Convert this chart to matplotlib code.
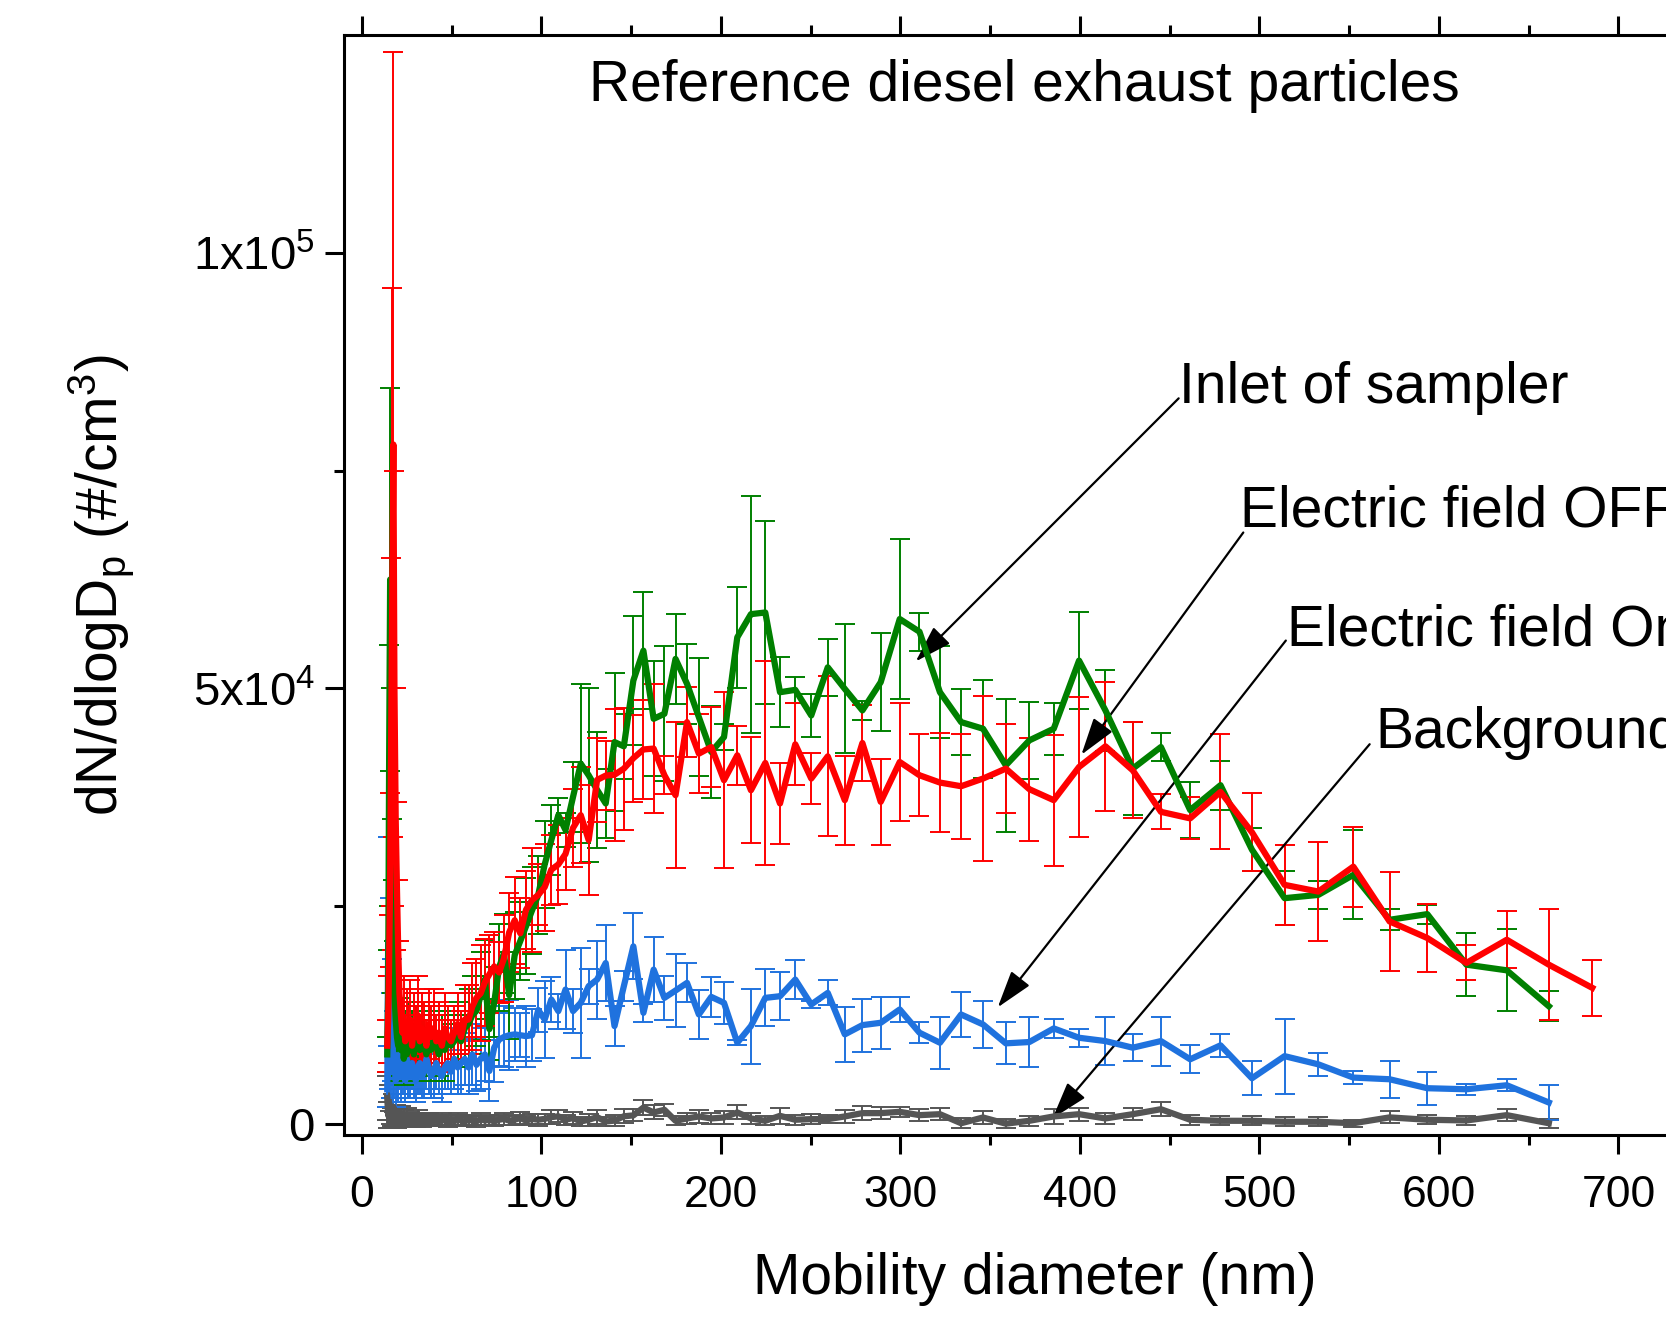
import numpy as np
import matplotlib
matplotlib.use('Agg')
import matplotlib.pyplot as plt

plt.rcParams['font.family'] = ['Liberation Sans', 'DejaVu Sans']
plt.rcParams['mathtext.fontset'] = 'custom'
plt.rcParams['mathtext.rm'] = 'Liberation Sans'
plt.rcParams['mathtext.it'] = 'Liberation Sans:italic'
plt.rcParams['mathtext.default'] = 'regular'

# SMPS channel mid-points (nm)
diam = [14.1, 14.6, 15.1, 15.7, 16.3, 16.8, 17.5, 18.1, 18.8, 19.5,
        20.2, 20.9, 21.7, 22.5, 23.3, 24.1, 25.0, 25.9, 26.9, 27.9,
        28.9, 30.0, 31.1, 32.2, 33.4, 34.6, 35.9, 37.2, 38.5, 40.0,
        41.4, 42.9, 44.5, 46.1, 47.8, 49.6, 51.4, 53.3, 55.2, 57.3,
        59.4, 61.5, 63.8, 66.1, 68.5, 71.0, 73.7, 76.4, 79.1, 82.0,
        85.1, 88.2, 91.4, 94.7, 98.2, 101.8, 105.5, 109.4, 113.4, 117.6,
        121.9, 126.3, 131.0, 135.8, 140.7, 145.9, 151.2, 156.8, 162.5, 168.5,
        174.7, 181.1, 187.7, 194.6, 201.7, 209.1, 216.7, 224.7, 232.9, 241.4,
        250.3, 259.5, 269.0, 278.8, 289.0, 299.6, 310.6, 322.0, 333.8, 346.0,
        358.7, 371.8, 385.4, 399.5, 414.2, 429.4, 445.1, 461.4, 478.3, 495.8,
        514.0, 532.8, 552.3, 572.5, 593.5, 615.3, 637.8, 661.2, 685.4]

# inlet of sampler (green)
inlet = [8000, 15000, 40000, 62500, 35000, 25000, 20000, 15000, 12000, 10000,
         9000, 11000, 8500, 10000, 7500, 9500, 8000, 10500, 8500, 9500,
         8000, 10000, 9000, 8500, 10500, 9000, 8000, 9500, 8500, 10000,
         9000, 8000, 9500, 8500, 10000, 9000, 9500, 10500, 9500, 11000,
         11500, 12500, 13000, 14700, 16600, 10900, 14000, 18000, 19600, 14800,
         19400, 21000, 22700, 24500, 26300, 29800, 32600, 35460, 33750, 37560,
         41370, 40040, 38360, 36800, 43850, 43360, 50910, 54340, 46520, 47090,
         53390, 50530, 46710, 42710, 44420, 55870, 58530, 58720, 49570, 49840,
         46900, 52430, 49950, 47480, 50720, 57970, 56510, 49570, 46140, 45380,
         41180, 44040, 45380, 53200, 47480, 40800, 43280, 36040, 38900, 31500,
         25930, 26310, 28600, 23450, 24100, 18300, 17650, 13530]
inlet_err = [2000, 5000, 15000, 22000, 15000, 10000, 8000, 6000, 5000, 4000,
             4000, 3500, 3000, 4000, 3000, 3500, 2500, 3500, 3000, 3500,
             3000, 3500, 3000, 2500, 3500, 3000, 2500, 3000, 3500, 3000,
             3000, 2500, 3000, 3500, 3000, 2500, 3000, 3500, 3000, 4000,
             4000, 4500, 4000, 5000, 4500, 3500, 4000, 5000, 4500, 5000,
             5000, 4500, 5500, 5000, 4500, 5000, 4000, 2000, 2000, 4000,
             9100, 10000, 6700, 4000, 7900, 3700, 7400, 6750, 6600, 7750,
             5200, 4600, 6750, 5250, 1500, 5800, 13600, 10500, 4000, 1500,
             2500, 3300, 7400, 1100, 5600, 9200, 2200, 5300, 3800, 5600,
             7600, 4400, 3000, 5600, 4600, 5300, 1600, 3200, 2800, 2500,
             3100, 1600, 5100, 1200, 1100, 3600, 4700, 1700]

# electric field OFF (red)
field_off = [9000, 12000, 18000, 28000, 45000, 58000, 78000, 50000, 35000, 27000,
             20000, 15000, 12500, 10500, 12000, 9500, 11500, 10000, 12000, 9000,
             11000, 10000, 12500, 9500, 11000, 10500, 9000, 11500, 10000, 11000,
             9500, 10500, 9000, 11000, 10000, 9500, 10500, 11500, 10000, 12000,
             12000, 13500, 14500, 15000, 16300, 17200, 18100, 17400, 19000, 22000,
             23400, 21900, 24600, 25700, 26300, 27200, 29200, 29800, 31000, 34000,
             35460, 32600, 39500, 40000, 40100, 40800, 42000, 43000, 43100, 40040,
             37750, 46140, 42520, 43280, 39470, 42330, 38320, 41450, 36800, 43590,
             39660, 42210, 37180, 43740, 36990, 41560, 40040, 39200, 38780, 39660,
             40800, 38440, 37180, 40990, 43360, 40610, 35840, 35090, 38130, 33500,
             27460, 26690, 29550, 23260, 21360, 18500, 21160, 18300, 15640]
field_off_err = [3000, 5000, 6000, 10000, 20000, 38000, 45000, 25000, 15000, 10000,
                 8000, 6000, 4500, 3500, 5000, 3000, 4000, 3500, 4500, 3000,
                 4000, 3500, 4500, 3000, 4000, 3500, 3000, 4000, 3500, 4500,
                 3000, 3500, 3000, 4000, 3500, 2500, 3000, 3500, 3000, 4000,
                 4000, 5000, 4500, 5500, 5000, 4500, 4000, 3500, 5000, 4500,
                 5000, 4000, 4500, 6000, 3500, 5000, 4000, 4500, 4100, 4500,
                 5500, 6300, 4850, 4000, 7600, 7000, 5000, 5700, 7400, 2200,
                 8400, 4000, 4500, 4600, 10100, 3400, 6100, 11750, 4600, 4700,
                 2900, 9200, 5100, 4400, 4960, 6800, 4700, 5700, 6000, 9500,
                 5100, 5900, 7500, 8000, 7400, 5500, 2000, 2400, 6600, 4500,
                 4600, 5700, 4600, 5700, 3900, 2000, 3300, 6400, 3200]

# electric field On (blue)
field_on = [4000, 21000, 12000, 16000, 9000, 12000, 6000, 8000, 5000, 7000,
            6000, 8000, 5500, 7000, 6500, 5000, 7500, 6000, 5500, 7000,
            6000, 5000, 6500, 7000, 5500, 6000, 7500, 6500, 5500, 6000,
            7000, 6000, 5500, 6500, 7000, 6000, 7500, 6500, 7000, 7500,
            6500, 8000, 6800, 7500, 8000, 6100, 8800, 9700, 10000, 10200,
            10300, 10200, 10100, 10200, 13100, 12010, 14300, 12970, 15440, 12970,
            13920, 15830, 16590, 18490, 11250, 15830, 20400, 12770, 17730, 14490,
            15330, 16210, 12580, 14600, 13920, 9340, 11250, 14490, 14680, 16590,
            13730, 15060, 10300, 11360, 11630, 13160, 10490, 9340, 12580, 11440,
            9270, 9420, 10980, 9910, 9530, 8770, 9530, 7440, 9040, 5260,
            7800, 6860, 5340, 5150, 4120, 4000, 4460, 2480]
field_on_err = [2000, 12000, 8000, 10000, 6000, 7000, 4000, 5000, 3000, 4000,
                3500, 4000, 3000, 3500, 3000, 2500, 3500, 3000, 2500, 3000,
                3000, 2500, 3000, 3500, 2500, 3000, 3500, 3000, 2500, 3000,
                3000, 2500, 3000, 2500, 3000, 2500, 3500, 3000, 3500, 3000,
                3000, 3500, 3000, 3500, 3000, 3500, 4000, 3000, 3500, 4000,
                3000, 2500, 3500, 3000, 2500, 4420, 2600, 2000, 4500, 2500,
                6330, 2000, 4480, 4400, 2300, 1700, 3780, 1000, 3750, 2500,
                4230, 2230, 2850, 2290, 2400, 300, 4300, 3260, 2780, 2200,
                400, 1430, 3150, 3030, 3000, 1470, 1200, 3000, 2550, 2730,
                2400, 2820, 1100, 1050, 2730, 1580, 2820, 1600, 1330, 1960,
                4300, 1300, 700, 2100, 1900, 650, 700, 2000]

# background (grey)
background = [3000, 1000, 2500, 500, 1500, 800, 2000, 600, 1200, 400,
              900, 500, 1200, 300, 800, 600, 1000, 400, 700, 500,
              600, 300, 800, 500, 400, 700, 300, 600, 500, 400,
              500, 300, 600, 400, 200, 500, 300, 600, 400, 300,
              500, 400, 300, 600, 400, 500, 300, 500, 600, 400,
              500, 700, 400, 600, 500, 600, 800, 900, 500, 700,
              300, 500, 800, 300, 400, 900, 1000, 1900, 1340, 1640,
              380, 650, 880, 650, 760, 1340, 650, 380, 950, 500,
              570, 570, 880, 1260, 1260, 1410, 1030, 1140, 100, 760,
              50, 380, 880, 1140, 650, 1140, 1710, 500, 380, 380,
              270, 270, 100, 770, 500, 420, 1030, 100]
background_err = [2500, 1500, 2000, 1000, 1500, 1000, 1500, 800, 1000, 800,
                  800, 700, 900, 600, 800, 700, 900, 600, 700, 600,
                  700, 600, 800, 600, 700, 600, 500, 700, 600, 500,
                  600, 500, 700, 600, 500, 600, 500, 700, 600, 500,
                  600, 500, 600, 700, 500, 600, 500, 600, 700, 500,
                  600, 700, 500, 600, 700, 600, 800, 700, 600, 700,
                  500, 700, 800, 500, 600, 800, 700, 900, 800, 700,
                  500, 600, 700, 600, 700, 800, 600, 500, 900, 600,
                  600, 500, 700, 800, 700, 600, 700, 700, 600, 700,
                  500, 600, 850, 750, 600, 700, 800, 600, 500, 500,
                  500, 500, 400, 700, 500, 500, 700, 500]

series = [
    (background, background_err, '#555555'),
    (field_on, field_on_err, '#1f72de'),
    (inlet, inlet_err, '#008000'),
    (field_off, field_off_err, '#ff0000'),
]

W, H = 1666, 1326
fig = plt.figure(figsize=(W / 100, H / 100), dpi=100)

px_per_nm = 1.795
x_left, x_right = -10, 760
ax = fig.add_axes([344 / W, 191 / H, (x_right - x_left) * px_per_nm / W, 1100 / H])

for vals, errs, col in series:
    xs = diam[:len(vals)]
    ax.errorbar(xs, vals, yerr=errs, color=col, lw=4.5, elinewidth=1.4,
                capsize=7.5, capthick=1.4, zorder=3)

ax.set_xlim(x_left, x_right)
ax.set_ylim(-1250, 125000)

ax.set_xticks(range(0, 800, 100))
ax.set_xticks(range(50, 800, 100), minor=True)
ax.set_yticks([0, 50000, 100000], ['0', '5x10$^4$', '1x10$^5$'])
ax.set_yticks([25000, 75000], minor=True)

for side in ['top', 'left', 'bottom', 'right']:
    ax.spines[side].set_linewidth(2.2)

ax.tick_params(which='both', direction='out', top=True, right=False,
               labeltop=False, width=2.2)
ax.tick_params(axis='x', pad=15, labelsize=32)
ax.tick_params(axis='y', pad=7, labelsize=34)
ax.tick_params(which='major', length=14)
ax.tick_params(which='minor', length=7)

ax.set_xlabel('Mobility diameter (nm)', fontsize=41, labelpad=26)
ax.set_ylabel('dN/dlogD$_\\mathrm{p}$ (#/cm$^3$)', fontsize=41, labelpad=40)

ax.text(369, 119200, 'Reference diesel exhaust particles', fontsize=41,
        ha='center', va='center')

# labels with arrows (the right part is cut by the figure edge, as in the source)
labels = ['Inlet of sampler', 'Electric field OFF', 'Electric field On', 'Background']
label_pos = [(455, 84500), (489, 70300), (515.5, 56600), (564.5, 44850)]
arrow_from = [(455, 83300), (491, 67900), (514.7, 55500), (561.4, 43600)]
arrow_to = [(308.5, 53100), (400.8, 42400), (354.2, 13400), (384.7, 650)]

for txt, tp, a0, a1 in zip(labels, label_pos, arrow_from, arrow_to):
    ax.text(tp[0], tp[1], txt, fontsize=41, ha='left', va='center', clip_on=False)
    ax.annotate('', xy=a1, xytext=a0,
                arrowprops=dict(arrowstyle='-|>,head_length=1.15,head_width=0.36',
                                mutation_scale=20, color='black', lw=1.6,
                                shrinkA=0, shrinkB=0))

fig.savefig('out.png', dpi=100)
